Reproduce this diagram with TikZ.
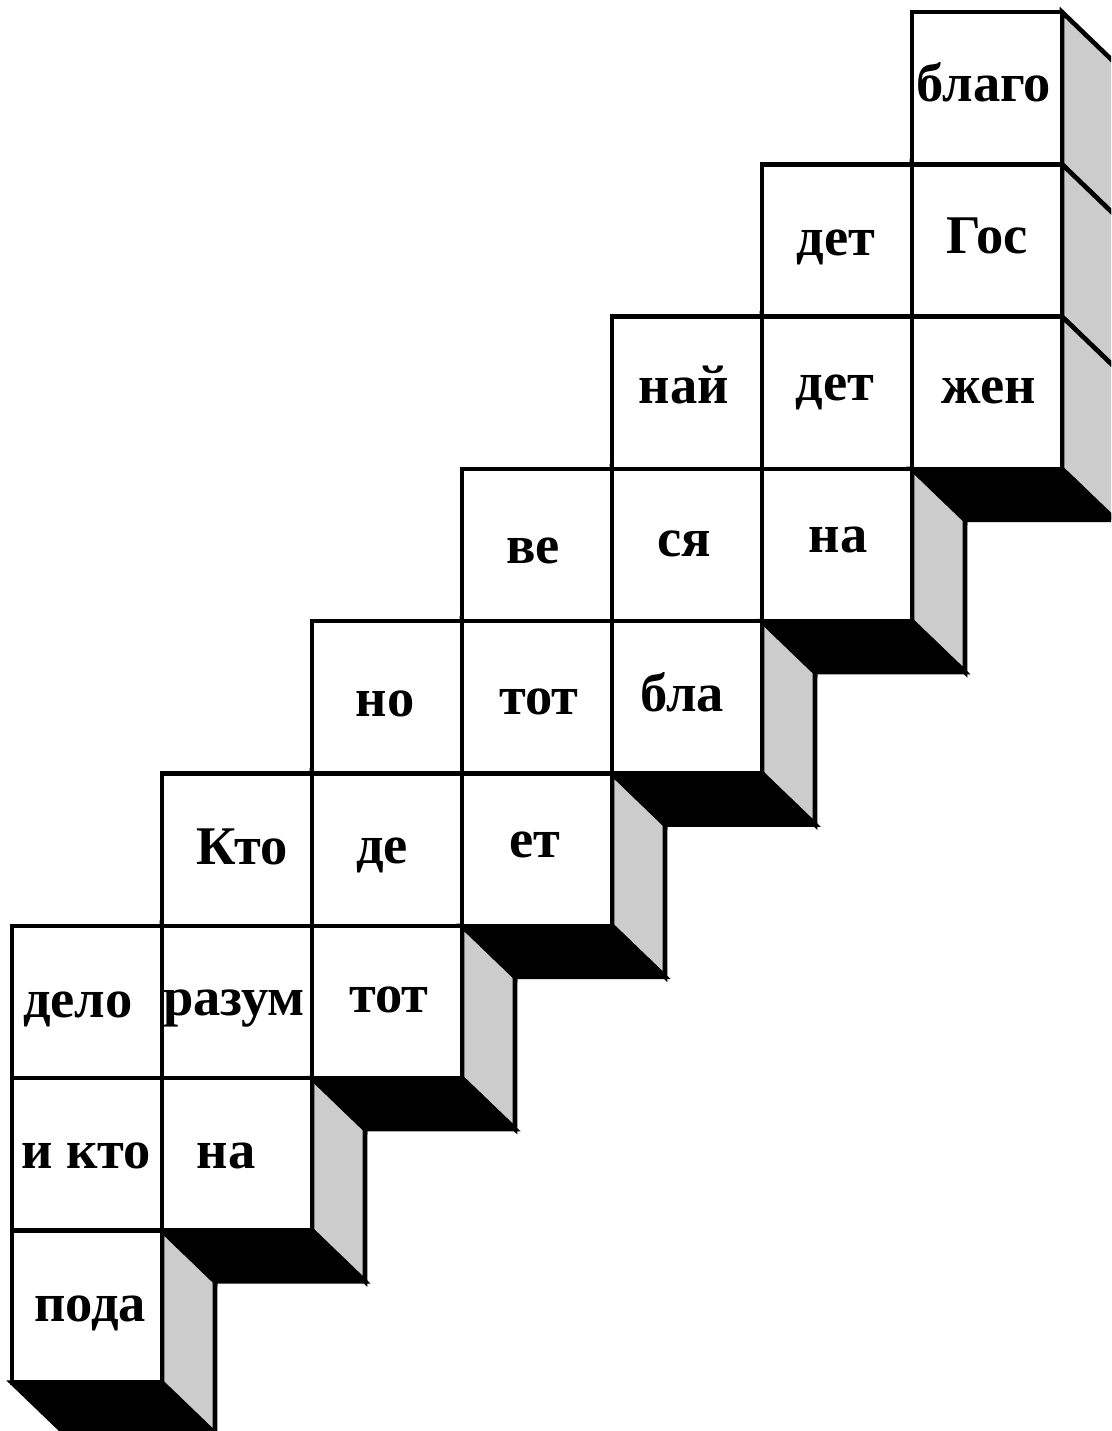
\documentclass[tikz,border=0pt]{standalone}
\usepackage{fontspec}
\setmainfont{Liberation Serif}
\tikzset{
  front/.style={draw=black, line width=1.3pt, fill=white},
  sideface/.style={draw=black, line width=1.3pt, fill=black!20},
  base/.style={draw=black, line width=1.3pt, fill=black},
  word/.style={font=\fontsize{15.5}{18}\selectfont\bfseries, inner sep=0pt, anchor=base}
}
\begin{document}
\begin{tikzpicture}[x=0.01cm, y=-0.01cm]
    \useasboundingbox (0,0) rectangle (1111,1431);
    \clip (0,0) rectangle (1111,1431);

    % лесенка из кубиков
    \foreach \c in {0,...,6} {
      \pgfmathsetmacro{\xl}{12+150*\c}
      \pgfmathsetmacro{\xr}{\xl+150}
      \pgfmathsetmacro{\ytop}{12+152.3*(6-\c)}
      \pgfmathsetmacro{\ybot}{\ytop+3*152.3}
      \foreach \r in {0,1,2} {
        \pgfmathsetmacro{\ya}{\ytop+152.3*\r}
        \draw[sideface] (\xr,\ya) -- ++(53,51) -- ++(0,152.3) -- ++(-53,-51) -- cycle;
      }
      \draw[base] (\xl,\ybot) -- (\xr,\ybot) -- ++(53,51) -- (\xl+53,\ybot+51) -- cycle;
      \foreach \r in {0,1,2} {
        \pgfmathsetmacro{\ya}{\ytop+152.3*\r}
        \draw[front] (\xl,\ya) rectangle ++(150,152.3);
      }
    }

    % слоги
    \node[word] (blago) at (984,102) {благо};
    \node[word] (gos)   at (987,254) {Гос};
    \node[word] (zhen)  at (989,404) {жен};

    \node[word] (det1)  at (836,256) {дет};
    \node[word] (det2)  at (835,401) {дет};
    \node[word] (na1)   at (838,552) {на};

    \node[word] (naj)   at (684,404) {най};
    \node[word] (sja)   at (684,557) {ся};
    \node[word] (bla)   at (682,711) {бла};

    \node[word] (ve)    at (533,563) {ве};
    \node[word] (tot1)  at (539,714) {тот};
    \node[word] (et)    at (535,857) {ет};

    \node[word] (no)    at (385,716) {но};
    \node[word] (de)    at (382,863) {де};
    \node[word] (tot2)  at (389,1012) {тот};

    \node[word] (kto)   at (242,864) {Кто};
    \node[word] (razum) at (234,1015) {разум};
    \node[word] (na2)   at (226,1168) {на};

    \node[word] (delo)  at (78,1017) {дело};
    \node[word] (ikto)  at (86,1168) {и кто};
    \node[word] (poda)  at (90,1321) {пода};
\end{tikzpicture}
\end{document}
